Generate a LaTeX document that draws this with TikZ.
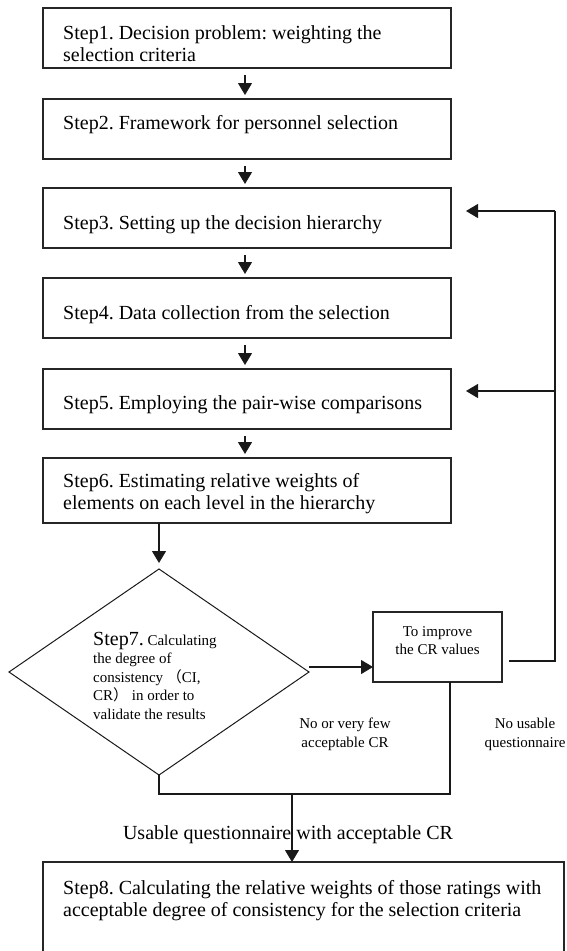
\documentclass[tikz,border=0pt]{standalone}
\usepackage{fontspec}
\setmainfont{Liberation Serif}
\newfontfamily\cjk{Noto Sans CJK SC}
\usetikzlibrary{arrows.meta,shapes.geometric}
\frenchspacing
\tikzset{
  stepbox/.style={draw=black!85, line width=1.4pt, minimum width=408pt, minimum height=60pt, inner sep=0pt, outer sep=0pt, anchor=north west},
  bigtxt/.style={font=\fontsize{20}{22.5}\selectfont\frenchspacing, inner sep=0pt, align=left},
  smalltxt/.style={font=\fontsize{15}{18.5}\selectfont\frenchspacing, inner sep=0pt, align=center},
  conn/.style={draw=black!90, line width=1.1pt},
  arr/.style={conn, -{Triangle[width=14pt,length=12pt]}},
}
\begin{document}
\begin{tikzpicture}[x=1pt,y=-1pt]
\useasboundingbox (0,0) rectangle (566,951);
\clip (0,0) rectangle (566,951);
% boxes
\node[stepbox] (s1) at (43,8) {};
\node[stepbox] (s2) at (43,99) {};
\node[stepbox] (s3) at (43,188) {};
\node[stepbox] (s4) at (43,278) {};
\node[stepbox] (s5) at (43,369) {};
\node[stepbox, minimum height=65pt] (s6) at (43,458) {};
\node[stepbox, minimum width=129pt, minimum height=70pt] (imp) at (373,612) {};
\node[stepbox, minimum width=521pt, minimum height=130pt] (s8) at (43,862) {};
\node[draw=black!90, diamond, line width=1pt, minimum width=300pt, minimum height=206pt, inner sep=0pt, outer sep=0pt] (d7) at (159,672) {};
% texts
\node[bigtxt, anchor=north west] (t1) at (63,25) {Step1. Decision problem: weighting the\\selection criteria};
\node[bigtxt, anchor=base west] (t2) at (63,129) {Step2. Framework for personnel selection};
\node[bigtxt, anchor=base west] (t3) at (63,229) {Step3. Setting up the decision hierarchy};
\node[bigtxt, anchor=base west] (t4) at (63,319) {Step4. Data collection from the selection};
\node[bigtxt, anchor=base west] (t5) at (63,409) {Step5. Employing the pair-wise comparisons};
\node[bigtxt, anchor=north west] (t6) at (63,473) {Step6. Estimating relative weights of\\elements on each level in the hierarchy};
\node[smalltxt, align=left, anchor=north west] (t7) at (93,632) {{\fontsize{20}{18.5}\selectfont Step7.} Calculating\\the degree of\\consistency {\cjk （}CI,\\CR{\cjk ）} in order to\\validate the results};
\node[smalltxt, anchor=north] (timp) at (437.5,626) {To improve\\the CR values};
\node[smalltxt, anchor=north] (tno) at (345,718) {No or very few\\acceptable CR};
\node[smalltxt, anchor=north] (tnu) at (525,718) {No usable\\questionnaire};
\node[bigtxt, anchor=base] (tus) at (288,839) {Usable questionnaire with acceptable CR};
\node[bigtxt, anchor=north west] (t8) at (63,880) {Step8. Calculating the relative weights of those ratings with\\acceptable degree of consistency for the selection criteria};
% connectors
\draw[arr] ([xshift=-2pt,yshift=-7pt]s1.south) -- ([xshift=-2pt,yshift=4pt]s2.north);
\draw[arr] ([xshift=-2pt,yshift=-7pt]s2.south) -- ([xshift=-2pt,yshift=4pt]s3.north);
\draw[arr] ([xshift=-2pt,yshift=-7pt]s3.south) -- ([xshift=-2pt,yshift=4pt]s4.north);
\draw[arr] ([xshift=-2pt,yshift=-7pt]s4.south) -- ([xshift=-2pt,yshift=4pt]s5.north);
\draw[arr] ([xshift=-2pt,yshift=-7pt]s5.south) -- ([xshift=-2pt,yshift=4pt]s6.north);
\draw[arr] (s6.south -| d7.north) -- ([yshift=6pt]d7.north);
\draw[arr] ([yshift=5pt]d7.east) -- ([yshift=5pt]d7.east -| imp.west);
\coordinate (fbA) at (509,661);
\coordinate (fbB) at (555,661);
\coordinate (fbC) at (555,211);
\coordinate (fbD) at (555,391);
\coordinate (tip3) at (466,211);
\coordinate (tip5) at (466,391);
\draw[conn] (fbA) -- (fbB) -- (fbC);
\draw[arr] (fbC) -- (tip3);
\draw[arr] (fbD) -- (tip5);
\coordinate (jL) at (159,794);
\coordinate (jR) at (450,794);
\coordinate (jM) at (292,794);
\draw[conn] (d7.south) -- (jL) -- (jR) -- (jR |- imp.south);
\draw[arr] (jM) -- (jM |- s8.north);
\end{tikzpicture}
\end{document}
